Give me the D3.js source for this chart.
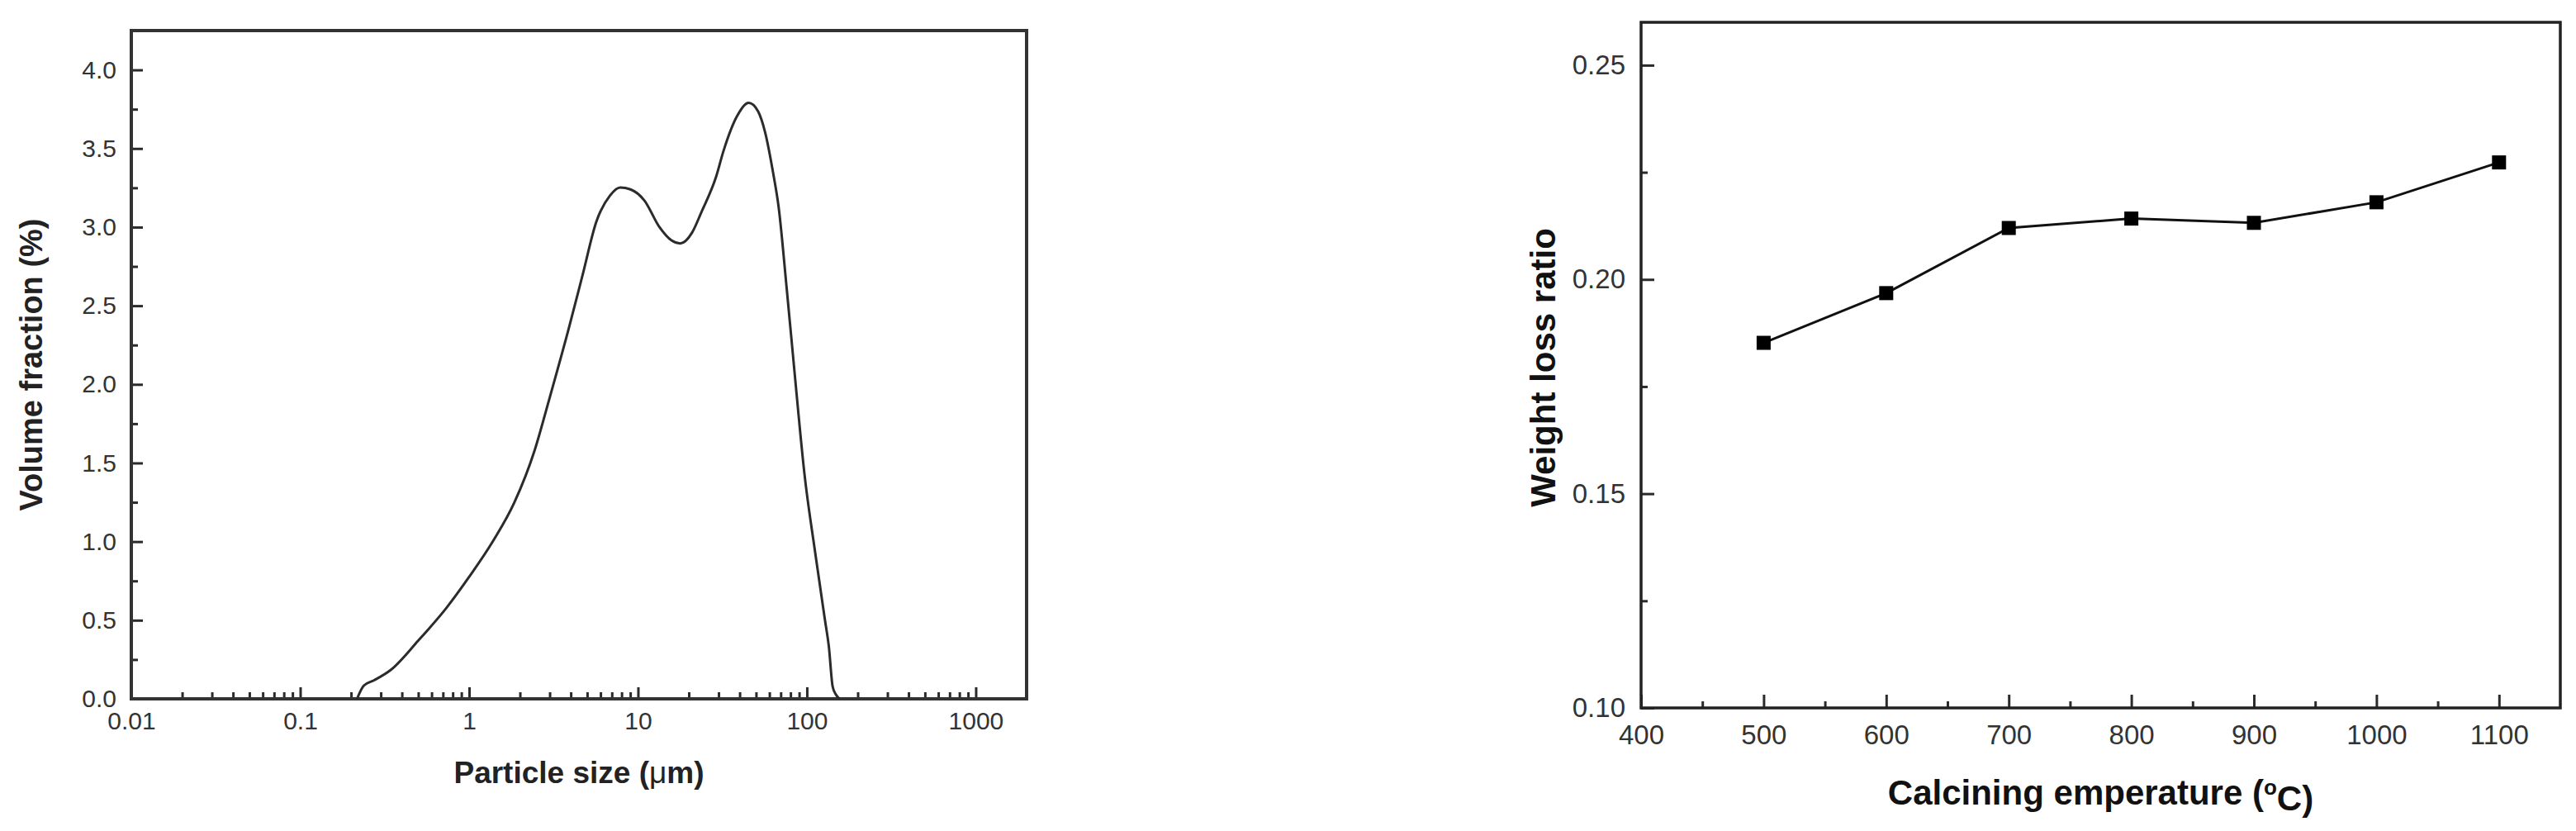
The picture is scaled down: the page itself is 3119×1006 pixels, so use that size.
<!DOCTYPE html>
<html>
<head>
<meta charset="utf-8">
<script src="https://cdn.jsdelivr.net/npm/d3@7"></script>
<style>
body{margin:0;background:#ffffff;}
svg text{font-family:"Liberation Sans", Arial, sans-serif;}
</style>
</head>
<body>
<div id="wrap"></div>
<script>
// left panel: particle size distribution
var sizes = [0.217, 0.238, 0.274, 0.345, 0.50, 0.728, 1.0, 1.40, 1.85, 2.45, 2.95, 3.9, 4.7, 5.66, 6.82, 7.85, 9.02, 10.9, 13.4, 15.8, 17.8, 20.9, 23.8, 29.0, 32.1, 38.8, 45.2, 51.4, 56.5, 63.0, 68.0, 76.0, 85.0, 97.0, 112, 128, 135, 142, 148, 156];
var volume = [0, 0.084, 0.118, 0.185, 0.37, 0.573, 0.775, 1.011, 1.247, 1.584, 1.887, 2.359, 2.696, 3.033, 3.20, 3.252, 3.24, 3.17, 3.00, 2.915, 2.896, 2.965, 3.098, 3.32, 3.485, 3.71, 3.79, 3.737, 3.606, 3.35, 3.13, 2.607, 2.05, 1.42, 0.93, 0.50, 0.33, 0.08, 0.03, 0];
var sizeTicks = [0.01, 0.1, 1, 10, 100, 1000];
var sizeTickLabels = ["0.01", "0.1", "1", "10", "100", "1000"];
var volumeTicks = [0.0, 0.5, 1.0, 1.5, 2.0, 2.5, 3.0, 3.5, 4.0];

// right panel: weight loss vs calcining temperature
var temps = [500, 600, 700, 800, 900, 1000, 1100];
var weightLoss = [0.1852, 0.1968, 0.2120, 0.2142, 0.2132, 0.2180, 0.2273];
var tempTicks = [400, 500, 600, 700, 800, 900, 1000, 1100];
var lossTicks = [0.10, 0.15, 0.20, 0.25];

var W = 3119, H = 1006;
var svg = d3.select("#wrap").append("svg").attr("width", W).attr("height", H);
svg.append("rect").attr("width", W).attr("height", H).attr("fill", "#ffffff");

var ink = "#2b2b2b";

function styleAxis(g, fs, sw){
	g.select(".domain").remove();
	g.selectAll("line").attr("stroke", ink).attr("stroke-width", sw);
	g.selectAll("text").attr("fill", "#333333").style("font-size", fs + "px").attr("font-family", null);
}

/* ---------- left chart ---------- */
var L = {left:159, right:1243, top:37, bottom:846};
var x1 = d3.scaleLog().domain([0.01, 2000]).range([L.left, L.right]);
var y1 = d3.scaleLinear().domain([0, 4.25]).range([L.bottom, L.top]);

var g1 = svg.append("g");

var minorX1 = x1.ticks().filter(function(d){ return sizeTicks.indexOf(d) < 0 && d < 2000; });
var gx1m = g1.append("g").attr("transform", "translate(0," + L.bottom + ")")
	.call(d3.axisBottom(x1).tickValues(minorX1).tickSize(-8).tickFormat(""));
styleAxis(gx1m, 30, 3);

var gx1 = g1.append("g").attr("transform", "translate(0," + L.bottom + ")")
	.call(d3.axisBottom(x1).tickValues(sizeTicks).tickSize(-14).tickPadding(14)
		.tickFormat(function(d, i){ return sizeTickLabels[i]; }));
styleAxis(gx1, 30, 3);
gx1.selectAll("text").attr("dy", "0.78em");

var minorY1 = d3.range(0.25, 4.25, 0.5);
var gy1m = g1.append("g").attr("transform", "translate(" + L.left + ",0)")
	.call(d3.axisLeft(y1).tickValues(minorY1).tickSize(-8).tickFormat(""));
styleAxis(gy1m, 30, 3);

var gy1 = g1.append("g").attr("transform", "translate(" + L.left + ",0)")
	.call(d3.axisLeft(y1).tickValues(volumeTicks).tickSize(-14).tickPadding(18).tickFormat(d3.format(".1f")));
styleAxis(gy1, 30, 3);

g1.append("rect")
	.attr("x", L.left).attr("y", L.top)
	.attr("width", L.right - L.left).attr("height", L.bottom - L.top)
	.attr("fill", "none").attr("stroke", "#333333").attr("stroke-width", 4);

var psd = sizes.map(function(d, i){ return [d, volume[i]]; });
var line1 = d3.line()
	.x(function(d){ return x1(d[0]); })
	.y(function(d){ return y1(d[1]); })
	.curve(d3.curveMonotoneX);

g1.append("path").datum(psd)
	.attr("d", line1)
	.attr("fill", "none")
	.attr("stroke", ink)
	.attr("stroke-width", 3)
	.attr("stroke-linejoin", "round");

g1.append("text")
	.attr("transform", "translate(37," + ((L.top + L.bottom) / 2) + ") rotate(-90)")
	.attr("text-anchor", "middle").attr("dy", "0.36em")
	.style("font-size", "38px").style("font-weight", "bold").attr("fill", "#222222")
	.text("Volume fraction (%)");

var xt1 = g1.append("text")
	.attr("x", (L.left + L.right) / 2).attr("y", 948)
	.attr("text-anchor", "middle")
	.style("font-size", "37px").style("font-weight", "bold").attr("fill", "#222222");
xt1.append("tspan").text("Particle size (");
xt1.append("tspan").style("font-weight", "normal").text("\u03bc");
xt1.append("tspan").text("m)");

/* ---------- right chart ---------- */
var R = {left:1987, right:3100, top:27, bottom:857};
var x2 = d3.scaleLinear().domain([400, 1150]).range([R.left, R.right]);
var y2 = d3.scaleLinear().domain([0.10, 0.26]).range([R.bottom, R.top]);

var g2 = svg.append("g");

var minorX2 = d3.range(450, 1150, 100);
var gx2m = g2.append("g").attr("transform", "translate(0," + R.bottom + ")")
	.call(d3.axisBottom(x2).tickValues(minorX2).tickSize(-8).tickFormat(""));
styleAxis(gx2m, 33, 3);

var gx2 = g2.append("g").attr("transform", "translate(0," + R.bottom + ")")
	.call(d3.axisBottom(x2).tickValues(tempTicks).tickSize(-16).tickPadding(18).tickFormat(d3.format("d")));
styleAxis(gx2, 33, 3);
gx2.selectAll("text").attr("dy", "0.78em");

var minorY2 = [0.125, 0.175, 0.225];
var gy2m = g2.append("g").attr("transform", "translate(" + R.left + ",0)")
	.call(d3.axisLeft(y2).tickValues(minorY2).tickSize(-8).tickFormat(""));
styleAxis(gy2m, 33, 3);

var gy2 = g2.append("g").attr("transform", "translate(" + R.left + ",0)")
	.call(d3.axisLeft(y2).tickValues(lossTicks).tickSize(-16).tickPadding(19).tickFormat(d3.format(".2f")));
styleAxis(gy2, 33, 3);

g2.append("rect")
	.attr("x", R.left).attr("y", R.top)
	.attr("width", R.right - R.left).attr("height", R.bottom - R.top)
	.attr("fill", "none").attr("stroke", "#222222").attr("stroke-width", 3.5);

var wl = temps.map(function(d, i){ return {t:d, v:weightLoss[i]}; });
var line2 = d3.line()
	.x(function(d){ return x2(d.t); })
	.y(function(d){ return y2(d.v); });

g2.append("path").datum(wl)
	.attr("d", line2)
	.attr("fill", "none")
	.attr("stroke", "#111111")
	.attr("stroke-width", 3);

var sq = 17;
g2.selectAll("rect.pt").data(wl).enter().append("rect").classed("pt", true)
	.attr("x", function(d){ return x2(d.t) - sq / 2; })
	.attr("y", function(d){ return y2(d.v) - sq / 2; })
	.attr("width", sq).attr("height", sq)
	.attr("fill", "#000000");

g2.append("text")
	.attr("transform", "translate(1868," + ((R.top + R.bottom) / 2 + 3) + ") rotate(-90)")
	.attr("text-anchor", "middle").attr("dy", "0.36em")
	.style("font-size", "42px").style("font-weight", "bold").attr("fill", "#111111")
	.text("Weight loss ratio");

var xt2 = g2.append("text")
	.attr("x", (R.left + R.right) / 2).attr("y", 974)
	.attr("text-anchor", "middle")
	.style("font-size", "42px").style("font-weight", "bold").attr("fill", "#111111");
xt2.append("tspan").text("Calcining emperature (");
xt2.append("tspan").attr("dy", "-0.45em").style("font-size", "26px").text("o");
xt2.append("tspan").attr("dy", "0.45em").text("C)");
</script>
</body>
</html>
